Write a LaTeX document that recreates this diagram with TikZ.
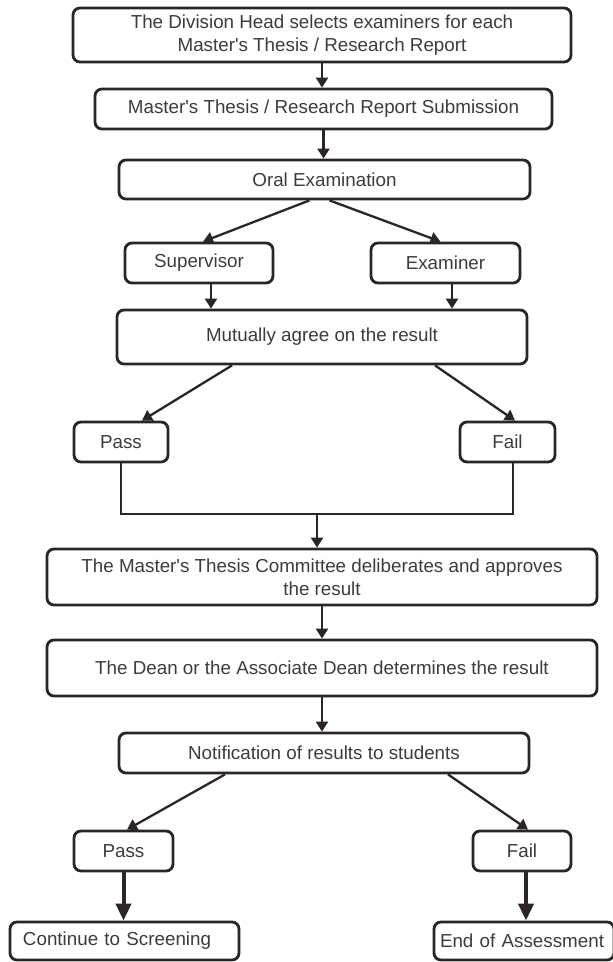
\documentclass[tikz,border=0pt]{standalone}
\usepackage{fontspec}
\setmainfont{Liberation Sans}
\usetikzlibrary{arrows.meta,calc}
\definecolor{boxline}{HTML}{2B2624}
\definecolor{boxtext}{HTML}{3C3C3C}
\tikzset{
  flowbox/.style={draw=boxline, line width=2.8pt, rounded corners=7pt, fill=white,
    text=boxtext, align=center, inner sep=0pt, font=\fontsize{18.8}{23}\selectfont},
  endbox/.style={flowbox, align=left, inner xsep=#1},
  flowarr/.style={draw=boxline, line width=2.3pt, -{Triangle[length=10pt,width=12pt]}},
  bigarr/.style={draw=boxline, line width=4pt, -{Triangle[length=17pt,width=15pt]}},
  flowline/.style={draw=boxline, line width=2.3pt}
}
\newcommand{\apos}{\textquotesingle}
\begin{document}
\begin{tikzpicture}[x=1pt,y=-1pt]
  \useasboundingbox (0,0) rectangle (613,962);
  \node[flowbox, minimum width=498, minimum height=54] (divhead) at (322,35) {The Division Head selects examiners for each\\Master\apos s Thesis / Research Report};
  \node[flowbox, minimum width=457, minimum height=40] (submit) at (323.5,109) {Master\apos s Thesis / Research Report Submission};
  \node[flowbox, minimum width=411, minimum height=39] (oral) at (324.5,179.5) {Oral Examination};
  \node[flowbox, minimum width=148, minimum height=40] (superv) at (199,263) {Supervisor};
  \node[flowbox, minimum width=149, minimum height=40] (examin) at (445.5,263) {Examiner};
  \node[flowbox, minimum width=410, minimum height=54] (agree) at (322,337) {Mutually agree on the result};
  \node[flowbox, minimum width=94, minimum height=40] (pass1) at (121,442) {Pass};
  \node[flowbox, minimum width=95, minimum height=40] (fail1) at (507.5,442) {Fail};
  \coordinate (merge) at (317,514);
  \node[flowbox, minimum width=550, minimum height=56] (committee) at (322,577) {The Master\apos s Thesis Committee deliberates and approves\\the result};
  \node[flowbox, minimum width=550, minimum height=56] (dean) at (322,668) {The Dean or the Associate Dean determines the result};
  \node[flowbox, minimum width=410, minimum height=40] (notify) at (324,753) {Notification of results to students};
  \node[flowbox, minimum width=99, minimum height=40] (pass2) at (123.5,851) {Pass};
  \node[flowbox, minimum width=98, minimum height=40] (fail2) at (522,851) {Fail};
  \node[endbox=13pt, text width=203, minimum height=38] (contin) at (124.5,941) {Continue to Screening};
  \node[endbox=6pt, text width=168, minimum height=38] (endassess) at (524,941) {End of Assessment};
  \coordinate (supout) at ($(superv.south)+(12,0)$);
  \coordinate (exaout) at ($(examin.south)+(6.5,0)$);
  \coordinate (failout) at ($(fail2.south)+(4,0)$);
  \draw[flowarr] (divhead.south) -- (divhead.south |- submit.north);
  \draw[flowarr] (submit.south) -- (submit.south |- oral.north);
  \draw[flowarr] ($(oral.south)+(-15,0)$) -- ($(superv.north)+(4,0)$);
  \draw[flowarr] ($(oral.south)+(5,0)$) -- ($(examin.north)+(-5,0)$);
  \draw[flowarr] (supout) -- (supout |- agree.north);
  \draw[flowarr] (exaout) -- (exaout |- agree.north);
  \draw[flowarr] ($(agree.south)+(-90,0)$) -- ($(pass1.north)+(21,0)$);
  \draw[flowarr] ($(agree.south)+(113,0)$) -- ($(fail1.north)+(7.5,0)$);
  \draw[flowline] (pass1.south) |- (merge) -| ($(fail1.south)+(5.5,0)$);
  \draw[flowarr] (merge) -- (merge |- committee.north);
  \draw[flowarr] (committee.south) -- (committee.south |- dean.north);
  \draw[flowarr] (dean.south) -- (dean.south |- notify.north);
  \draw[flowarr] ($(notify.south)+(-99,0)$) -- ($(pass2.north)+(3.5,0)$);
  \draw[flowarr] ($(notify.south)+(124,0)$) -- ($(fail2.north)+(6,0)$);
  \draw[bigarr] (pass2.south) -- (pass2.south |- contin.north);
  \draw[bigarr] (failout) -- (failout |- endassess.north);
\end{tikzpicture}
\end{document}
